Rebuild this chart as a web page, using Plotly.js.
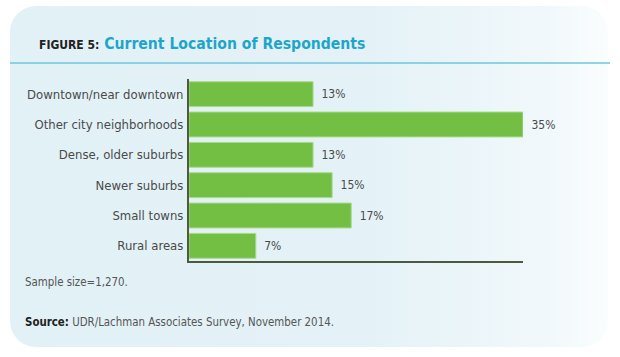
<!DOCTYPE html>
<html>
<head>
<meta charset="utf-8">
<script src="https://cdn.plot.ly/plotly-3.0.1.min.js"></script>
<style>
  html, body { margin: 0; padding: 0; background: #ffffff; }
  #wrap { position: relative; width: 620px; height: 357px; overflow: hidden; }
  #panel { position: absolute; left: 10px; top: 6px; width: 598px; height: 341px;
           border-radius: 26px;
           background: linear-gradient(to right, #e2f1f6 0%, #e4f2f7 60%, #f1f8fb 90%, #fafdfe 100%); }
  #chart { position: absolute; left: 0; top: 0; width: 620px; height: 357px; }
</style>
</head>
<body>
<div id="wrap">
  <div id="panel"></div>
  <div id="chart"></div>
</div>
<script>
const categories = ["Downtown/near downtown", "Other city neighborhoods", "Dense, older suburbs", "Newer suburbs", "Small towns", "Rural areas"];
const values = [13, 35, 13, 15, 17, 7];
const titlePrefix = "FIGURE 5:";
const titleMain = "Current Location of Respondents";
const sampleNote = "Sample size=1,270.";
const sourceLabel = "Source:";
const sourceText = "UDR/Lachman Associates Survey, November 2014.";

const W = 620, H = 357;
const M = { l: 189, r: 97, t: 79, b: 96 };
const pw = W - M.l - M.r, ph = H - M.t - M.b;
const px = x => (x - M.l) / pw;
const py = y => (H - M.b - y) / ph;

const FONT = "DejaVu Sans Condensed, Liberation Sans Narrow, Roboto, sans-serif";

const trace = {
  type: "bar",
  orientation: "h",
  y: categories,
  x: values,
  marker: { color: "#72bf44", line: { color: "#a9da8e", width: 1 } },
  text: values.map(v => "\u2002" + v + "%"),
  textposition: "outside",
  textfont: { family: FONT, size: 12, color: "#4a4a4a" },
  cliponaxis: false,
  hoverinfo: "none"
};

const layout = {
  width: W, height: H,
  margin: M,
  paper_bgcolor: "rgba(0,0,0,0)",
  plot_bgcolor: "rgba(0,0,0,0)",
  showlegend: false,
  bargap: 0.18,
  font: { family: FONT, size: 12, color: "#4a4a4a" },
  xaxis: { range: [0, 35], showgrid: false, zeroline: false, showticklabels: false,
           showline: true, linecolor: "#4d5a40", linewidth: 2, ticks: "", fixedrange: true },
  yaxis: { autorange: "reversed", showgrid: false, zeroline: false, showline: true,
           linecolor: "#4d5a40", linewidth: 2, ticks: "", ticklabelstandoff: 1,
           tickfont: { family: FONT, size: 13, color: "#4a4a4a" }, fixedrange: true },
  shapes: [
    { type: "line", xref: "paper", yref: "paper", x0: px(10), x1: px(610), y0: py(63), y1: py(63),
      line: { color: "#6cc6de", width: 1.5 } }
  ],
  annotations: [
    { xref: "paper", yref: "paper", x: px(37), y: py(44), xanchor: "left", yanchor: "middle",
      showarrow: false,
      text: "<b><span style='font-size:12px;color:#222'>" + titlePrefix + "</span> " +
            "<span style='font-size:15.6px;color:#1ea5c9'>" + titleMain + "</span></b>",
      font: { family: FONT, size: 15.6 } },
    { xref: "paper", yref: "paper", x: px(23), y: py(282), xanchor: "left", yanchor: "middle",
      showarrow: false, text: sampleNote, font: { family: FONT, size: 11.4, color: "#555" } },
    { xref: "paper", yref: "paper", x: px(23), y: py(322), xanchor: "left", yanchor: "middle",
      showarrow: false, text: "<b><span style='color:#222'>" + sourceLabel + "</span></b> " + sourceText,
      font: { family: FONT, size: 11.4, color: "#555" } }
  ]
};

Plotly.newPlot("chart", [trace], layout, { displayModeBar: false, staticPlot: true });
</script>
</body>
</html>
